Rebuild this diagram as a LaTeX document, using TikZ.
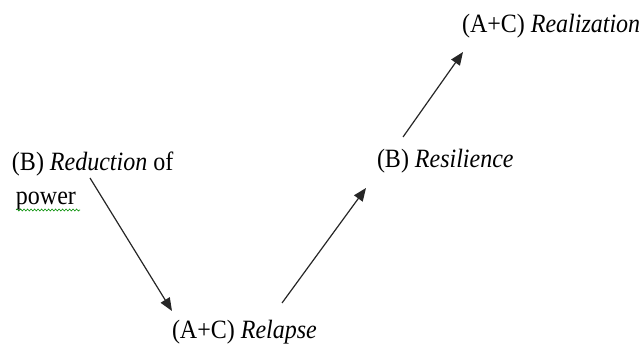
\documentclass[tikz,border=0pt]{standalone}
\usepackage{fontspec}
\usepackage{graphicx}
\setmainfont{Liberation Serif}
\usetikzlibrary{arrows.meta,decorations.pathmorphing}
\newcommand{\tall}[1]{\scalebox{1}[1.1]{#1}}
\begin{document}
\begin{tikzpicture}[x=1pt,y=1pt,
  lbl/.style={anchor=base west,inner sep=0pt,outer sep=0pt,font=\fontsize{24}{28}\selectfont},
  conn/.style={draw=black!85,line width=1.2pt,-{Triangle[length=13pt,width=10.5pt]}},
  squig/.style={draw=green!55!black,line width=0.6pt,decorate,decoration={snake,amplitude=1pt,segment length=3.5pt}}]
\useasboundingbox (0,0) rectangle (644,345);
\node[lbl] (red) at (12,174) {\tall{(B) \textit{Reduction} of}};
\node[lbl] (pow) at (16,140) {\tall{power}};
\node[lbl] (rel) at (172,7) {\tall{(A+C) \textit{Relapse}}};
\node[lbl] (res) at (377,177) {\tall{(B) \textit{Resilience}}};
\node[lbl] (rea) at (462,312) {\tall{(A+C) \textit{Realization}}};
\coordinate (a1s) at (90,167);
\coordinate (a1e) at (172,34);
\coordinate (a2s) at (282,42);
\coordinate (a2e) at (366,157);
\coordinate (a3s) at (403,208);
\coordinate (a3e) at (463,293);
\draw[conn] (a1s) -- (a1e);
\draw[conn] (a2s) -- (a2e);
\draw[conn] (a3s) -- (a3e);
\coordinate (sq1) at (16,135);
\coordinate (sq2) at (80,135);
\draw[squig] (sq1) -- (sq2);
\end{tikzpicture}
\end{document}
